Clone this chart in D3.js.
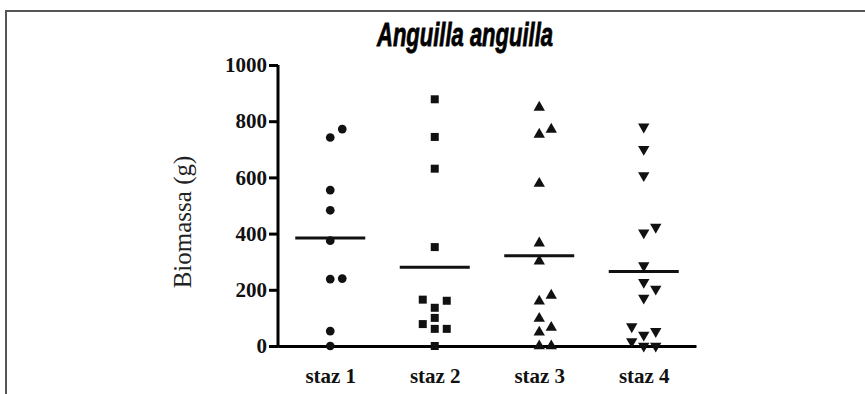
<!DOCTYPE html>
<html>
<head>
<meta charset="utf-8">
<script src="https://cdn.jsdelivr.net/npm/d3@7"></script>
<style>
  body { margin: 0; background: #fff; }
  svg { display: block; }
</style>
</head>
<body>
<div id="chart"></div>
<script>
// values (g)
const stations = ["staz 1", "staz 2", "staz 3", "staz 4"];
const staz1 = [0, 53, 238, 240, 375, 483, 555, 742, 772];
const staz2 = [0, 61, 61, 78, 100, 136, 161, 165, 352, 631, 744, 878];
const staz3 = [0, 0, 49, 66, 98, 159, 180, 302, 366, 578, 753, 771, 849];
const staz4 = [0, 0, 16, 39, 52, 69, 171, 203, 227, 286, 403, 423, 607, 700, 780];
const yTicks = [0, 200, 400, 600, 800, 1000];

const seriesValues = [staz1, staz2, staz3, staz4];
const symbols = [d3.symbolCircle, d3.symbolSquare, d3.symbolTriangle, d3.symbolTriangle];

const width = 865, height = 394;
const margin = { top: 65, right: 169, bottom: 48, left: 278 };
const innerW = width - margin.left - margin.right;
const innerH = height - margin.top - margin.bottom;

const svg = d3.select("#chart").append("svg")
    .attr("width", width)
    .attr("height", height);

// frame (top and left only visible)
svg.append("path")
    .attr("d", `M6,${height} V11 H${width}`)
    .attr("fill", "none")
    .attr("stroke", "#555")
    .attr("stroke-width", 2);

svg.append("text")
    .attr("x", 465)
    .attr("y", 46)
    .attr("text-anchor", "middle")
    .attr("textLength", 176)
    .attr("lengthAdjust", "spacingAndGlyphs")
    .style("font-family", "'Liberation Sans', Arial, sans-serif")
    .style("font-size", "33px")
    .style("font-weight", "bold")
    .style("font-style", "italic")
    .attr("stroke", "#000")
    .attr("stroke-width", 0.8)
    .text("Anguilla anguilla");

const g = svg.append("g")
    .attr("transform", `translate(${margin.left},${margin.top})`);

const x = d3.scalePoint().domain(stations).range([0, innerW]).padding(0.5);
const y = d3.scaleLinear().domain([0, 1000]).range([innerH, 0]);

// y axis
const yAxis = g.append("g")
    .call(d3.axisLeft(y).tickValues(yTicks).tickFormat(d3.format("d"))
        .tickSize(9).tickPadding(2).tickSizeOuter(0));
yAxis.select(".domain").attr("stroke-width", 3).attr("d", `M0,${innerH + 1.5}V0`);
yAxis.selectAll(".tick line").attr("stroke-width", 3);
yAxis.selectAll(".tick text")
    .style("font-family", "'Liberation Serif', 'Times New Roman', serif")
    .style("font-size", "21px")
    .style("font-weight", "bold")
    .attr("fill", "#111");

// x axis: plain line, no ticks
const xAxis = g.append("g")
    .attr("transform", `translate(0,${innerH})`)
    .call(d3.axisBottom(x).tickSize(0).tickPadding(22));
xAxis.select(".domain").attr("stroke-width", 3);
xAxis.selectAll(".tick text")
    .style("font-family", "'Liberation Serif', 'Times New Roman', serif")
    .style("font-size", "21px")
    .style("font-weight", "bold")
    .attr("fill", "#111");

svg.append("text")
    .attr("transform", `translate(191,222) rotate(-90)`)
    .attr("text-anchor", "middle")
    .style("font-family", "'Liberation Serif', 'Times New Roman', serif")
    .style("font-size", "25px")
    .attr("fill", "#222")
    .text("Biomassa (g)");

// simple swarm: spread points that would overlap vertically
const step = 12, minGap = 9;
function swarm(values) {
    const placed = [];
    values.slice().sort((a, b) => a - b).forEach(v => {
        const py = y(v);
        for (const k of [0, 1, -1, 2, -2]) {
            const hit = placed.some(p => p.k === k && Math.abs(p.py - py) < minGap);
            if (!hit) { placed.push({ v, py, k }); break; }
        }
    });
    return placed;
}

seriesValues.forEach((vals, i) => {
    const cx = x(stations[i]);
    const pts = swarm(vals);
    const sym = d3.symbol().type(symbols[i]).size(i === 0 ? 60 : (i === 1 ? 64 : 56));
    g.append("g").selectAll("path")
        .data(pts)
        .join("path")
        .attr("d", sym)
        .attr("transform", d => `translate(${cx + d.k * step},${d.py})` + (i === 3 ? " rotate(180)" : ""))
        .attr("fill", "#111");

    const mean = d3.mean(vals);
    g.append("line")
        .attr("x1", cx - 35)
        .attr("x2", cx + 35)
        .attr("y1", y(mean))
        .attr("y2", y(mean))
        .attr("stroke", "#111")
        .attr("stroke-width", 3);
});
</script>
</body>
</html>
